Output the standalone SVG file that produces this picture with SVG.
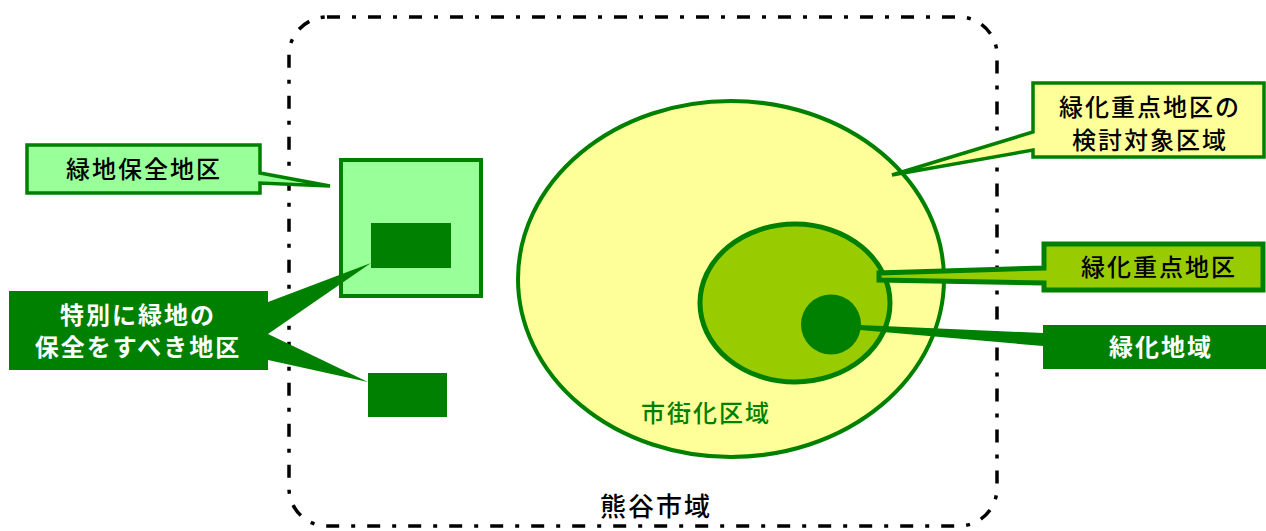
<svg xmlns="http://www.w3.org/2000/svg" width="1266" height="531" viewBox="0 0 1266 531">
<style>
.t{font-family:"Noto Sans CJK JP","Noto Sans",sans-serif;font-size:24px;letter-spacing:2px;text-anchor:middle;font-weight:500}
.blk{fill:#000}
.wht{fill:#fff;font-weight:bold}
.dk{fill:#008000}
</style>
<rect width="1266" height="531" fill="#fff"/>
<g id="city-boundary">
<rect x="289" y="17" width="708" height="509" rx="38" ry="38" fill="none" stroke="#000" stroke-width="3.5" stroke-dasharray="13 12 4 12"/>
<text class="t blk" x="656" y="516" style="font-size:26px">熊谷市域</text>
</g>
<g id="urbanization-area">
<ellipse cx="731" cy="279" rx="213" ry="178" fill="#FFFF99" stroke="#008000" stroke-width="4"/>
<text class="t dk" x="706" y="422">市街化区域</text>
</g>
<g id="greening-priority-area">
<ellipse cx="795" cy="303" rx="95" ry="79" fill="#99CC00" stroke="#008000" stroke-width="5"/>
</g>
<g id="greening-area">
<circle cx="831" cy="324.5" r="30" fill="#008000"/>
</g>
<g id="green-conservation-area">
<rect x="341" y="160" width="140" height="136" fill="#99FF99" stroke="#008000" stroke-width="4"/>
</g>
<g id="special-area-1">
<rect x="371" y="223" width="80" height="45" fill="#008000"/>
</g>
<g id="special-area-2">
<rect x="368" y="373" width="79" height="44" fill="#008000"/>
</g>
<g id="connectors">
<path d="M268,302 L371,263 L268,334 Z" fill="#008000"/>
<path d="M268,334 L368,382 L268,360 Z" fill="#008000"/>
<path d="M860,325 L1043,333 L1043,346 L860,330 Z" fill="#008000"/>
</g>
<g id="callout-green-conservation">
<path d="M27,145 H260 V173 L330,186 L260,183 V193 H27 Z" fill="#99FF99" stroke="#008000" stroke-width="3.5" stroke-linejoin="miter"/>
<text class="t blk" x="144" y="178">緑地保全地区</text>
</g>
<g id="callout-special">
<rect x="9" y="291" width="259" height="79" fill="#008000"/>
<text class="t wht" x="138" y="324">特別に緑地の</text>
<text class="t wht" x="138" y="356">保全をすべき地区</text>
</g>
<g id="callout-priority-candidate">
<path d="M1033,83 H1264 V157 H1033 V150 L892,175 L1033,132 Z" fill="#FFFF99" stroke="#008000" stroke-width="3.5"/>
<text class="t blk" x="1150" y="116">緑化重点地区の</text>
<text class="t blk" x="1150" y="149">検討対象区域</text>
</g>
<g id="callout-priority">
<path d="M1044,244 H1263 V290 H1044 V283 L879,280 L879,273 L1044,268 Z" fill="#99CC00" stroke="#008000" stroke-width="5"/>
<text class="t blk" x="1159" y="276">緑化重点地区</text>
</g>
<g id="callout-greening">
<rect x="1043" y="325" width="223" height="44" fill="#008000"/>
<text class="t wht" x="1161" y="356">緑化地域</text>
</g>
</svg>
